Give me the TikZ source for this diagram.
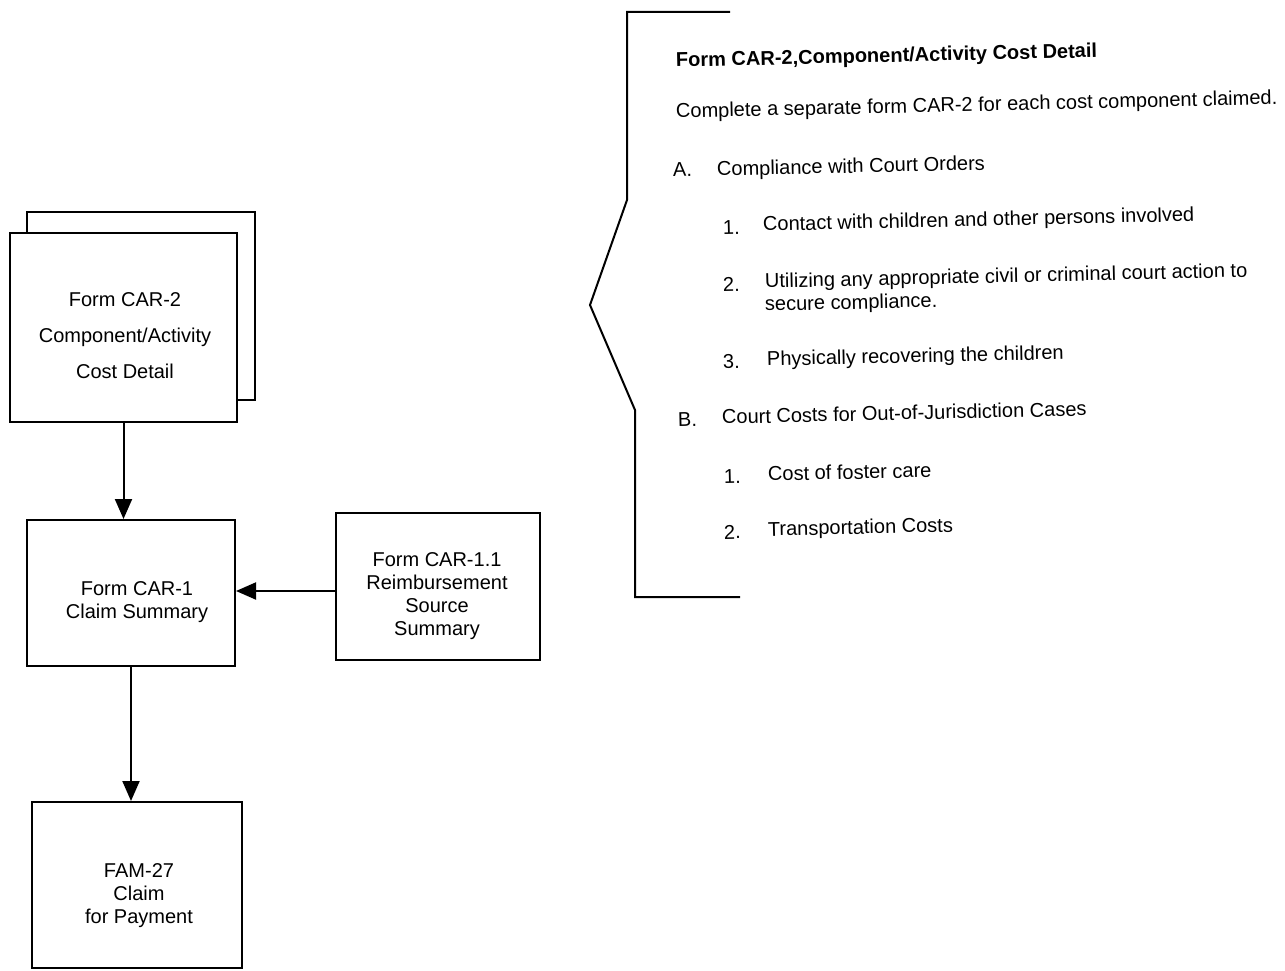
\documentclass[tikz,border=0pt]{standalone}
\usepackage{fontspec}
\setmainfont{Liberation Sans}
\usetikzlibrary{arrows.meta}
\begin{document}
\begin{tikzpicture}[x=1pt,y=-1pt,
  box/.style={draw, line width=2pt, inner sep=0pt, fill=white},
  lbl/.style={align=center, font=\fontsize{20}{23}\selectfont, inner sep=0pt},
  arr/.style={line width=2pt, -{Triangle[length=20pt,width=17pt]}},
  txt/.style={anchor=base west, inner sep=0pt, font=\fontsize{20}{24}\selectfont, rotate=1.3},
  ttl/.style={txt, font=\fontsize{20}{24}\selectfont\bfseries},
  brk/.style={line width=2pt, line join=miter},
]
\useasboundingbox[fill=white] (0,0) rectangle (1285,971);

% left flow chart
\node[box, minimum width=228pt, minimum height=188pt] (car2b) at (141,306) {};
\node[box, minimum width=227pt, minimum height=189pt] (car2) at (123.5,327.5) {};
\node[lbl, font=\fontsize{20}{36}\selectfont] (car2t) at (125,336) {Form CAR-2\\Component/Activity\\Cost Detail};

\node[box, minimum width=208pt, minimum height=146pt] (car1) at (131,593) {};
\node[lbl] (car1t) at (137,602) {Form CAR-1\\Claim Summary};

\node[box, minimum width=204pt, minimum height=147pt] (car11) at (438,586.5) {};
\node[lbl] (car11t) at (437,596) {Form CAR-1.1\\Reimbursement\\Source\\Summary};

\node[box, minimum width=210pt, minimum height=166pt] (fam) at (137,885) {};
\node[lbl] (famt) at (139,896) {FAM-27\\Claim\\for Payment};

\draw[arr] (car2.south) -- (car2.south |- car1.north);
\draw[arr] (car11.west |- 0,591) -- (car1.east |- 0,591);
\draw[arr] (car1.south) -- (car1.south |- fam.north);

% bracket
\coordinate (b1) at (730,12);
\coordinate (b2) at (627,12);
\coordinate (b3) at (627,200);
\coordinate (b4) at (590,305);
\coordinate (b5) at (635,410);
\coordinate (b6) at (635,597);
\coordinate (b7) at (740,597);
\draw[brk] (b1) -- (b2) -- (b3) -- (b4) -- (b5) -- (b6) -- (b7);

% right text
\node[ttl] (title) at (676,67) {Form CAR-2,Component/Activity Cost Detail};
\node[txt] (intro) at (676,118) {Complete a separate form CAR-2 for each cost component claimed.};
\node[txt] (aL) at (673,177) {A.};
\node[txt] (aT) at (717,176) {Compliance with Court Orders};
\node[txt] (a1L) at (723,235) {1.};
\node[txt] (a1T) at (763,231) {Contact with children and other persons involved};
\node[txt] (a2L) at (723,292) {2.};
\node[txt] (a2T) at (765,288) {Utilizing any appropriate civil or criminal court action to};
\node[txt] (a2U) at (765,311) {secure compliance.};
\node[txt] (a3L) at (723,369) {3.};
\node[txt] (a3T) at (767,366) {Physically recovering the children};
\node[txt] (bL) at (678,427) {B.};
\node[txt] (bT) at (722,424) {Court Costs for Out-of-Jurisdiction Cases};
\node[txt] (b1L) at (724,484) {1.};
\node[txt] (b1T) at (768,481) {Cost of foster care};
\node[txt] (b2L) at (724,539) {2.};
\node[txt] (b2T) at (768,536) {Transportation Costs};
\end{tikzpicture}
\end{document}
